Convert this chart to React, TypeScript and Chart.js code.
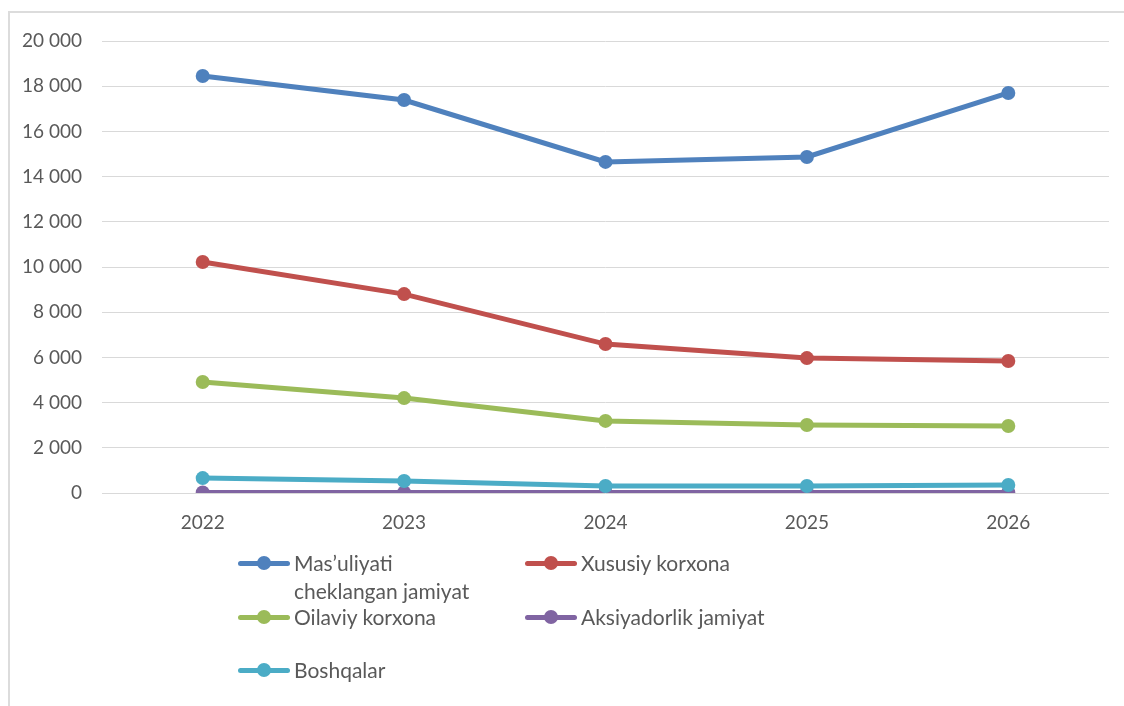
import React, { useEffect, useRef } from "react";
import { Chart, registerables } from "chart.js";

Chart.register(...registerables);

const years = ["2022", "2023", "2024", "2025", "2026"];
const seriesNames = [
  "Mas\u2019uliyati cheklangan jamiyat",
  "Xususiy korxona",
  "Oilaviy korxona",
  "Aksiyadorlik jamiyat",
  "Boshqalar",
];
const masuliyati = [18450, 17390, 14650, 14870, 17700];
const xususiy = [10220, 8800, 6590, 5970, 5840];
const oilaviy = [4910, 4200, 3190, 3010, 2965];
const aksiyadorlik = [25, 25, 25, 25, 25];
const boshqalar = [660, 530, 310, 310, 355];
const yTicks = [0, 2000, 4000, 6000, 8000, 10000, 12000, 14000, 16000, 18000, 20000];

const seriesValues = [masuliyati, xususiy, oilaviy, aksiyadorlik, boshqalar];
const colors = ["#4F81BD", "#C0504D", "#9BBB59", "#8064A2", "#4BACC6"];

const FONT = "Lato, 'Open Sans', sans-serif";
const TEXT = "#595959";

function fmt(v: number) {
  const s = Math.round(v).toString();
  return s.replace(/\B(?=(\d{3})+(?!\d))/g, " ");
}

function LegendItem({ color, lines, left, top }: { color: string; lines: string[]; left: number; top: number }) {
  return (
    <div style={{ position: "absolute", left, top, height: 28 }}>
      <div style={{ position: "absolute", left: 0, top: 11.5, width: 52, height: 5, background: color, borderRadius: 2.5 }} />
      <div style={{ position: "absolute", left: 19, top: 7, width: 14, height: 14, background: color, borderRadius: 7 }} />
      <div
        style={{
          position: "absolute",
          left: 56,
          top: 0,
          font: `21px ${FONT}`,
          color: TEXT,
          lineHeight: "28px",
          whiteSpace: "nowrap",
        }}
      >
        {lines.map((l, i) => (
          <div key={i}>{l}</div>
        ))}
      </div>
    </div>
  );
}

export default function App() {
  const ref = useRef<HTMLCanvasElement | null>(null);

  useEffect(() => {
    if (!ref.current) return;
    const chart = new Chart(ref.current, {
      type: "line",
      data: {
        labels: years,
        datasets: seriesValues.map((vals, i) => ({
          label: seriesNames[i],
          data: vals,
          borderColor: colors[i],
          backgroundColor: colors[i],
          pointBackgroundColor: colors[i],
          pointBorderColor: colors[i],
          borderWidth: 5,
          pointRadius: 7,
          pointBorderWidth: 0,
          tension: 0,
          order: 4 - i,
        })),
      },
      options: {
        animation: false,
        responsive: false,
        layout: { padding: { left: 0, right: 15, top: 41, bottom: 0 } },
        plugins: { legend: { display: false }, tooltip: { enabled: false } },
        scales: {
          x: {
            offset: true,
            grid: { display: false, drawTicks: false },
            border: { display: false },
            ticks: { color: TEXT, font: { family: FONT, size: 19 }, padding: 18 },
            afterFit: (s: any) => {
              s.height = 213;
            },
          },
          y: {
            min: 0,
            max: 20000,
            afterBuildTicks: (s: any) => {
              s.ticks = yTicks.map((v) => ({ value: v }));
            },
            grid: { color: "#d9d9d9", lineWidth: 1, drawTicks: false },
            border: { display: false },
            ticks: {
              color: TEXT,
              font: { family: FONT, size: 19 },
              padding: 20,
              callback: (v: any) => fmt(Number(v)),
            },
            afterFit: (s: any) => {
              s.width = 102;
            },
          },
        },
      },
    });
    return () => chart.destroy();
  }, []);

  return (
    <div style={{ position: "absolute", left: 0, top: 0, width: 1124, height: 706, overflow: "hidden", background: "#fff" }}>
      <div
        style={{
          position: "absolute",
          left: 8,
          top: 11,
          width: 1300,
          height: 900,
          border: "2px solid #dcdcdc",
          boxSizing: "border-box",
        }}
      />
      <canvas ref={ref} width={1124} height={706} style={{ position: "absolute", left: 0, top: 0, width: 1124, height: 706 }} />
      <LegendItem color={colors[0]} lines={["Mas\u2019uliyati", "cheklangan jamiyat"]} left={238} top={549} />
      <LegendItem color={colors[1]} lines={[seriesNames[1]]} left={525} top={549} />
      <LegendItem color={colors[2]} lines={[seriesNames[2]]} left={238} top={603} />
      <LegendItem color={colors[3]} lines={[seriesNames[3]]} left={525} top={603} />
      <LegendItem color={colors[4]} lines={[seriesNames[4]]} left={238} top={656} />
    </div>
  );
}
